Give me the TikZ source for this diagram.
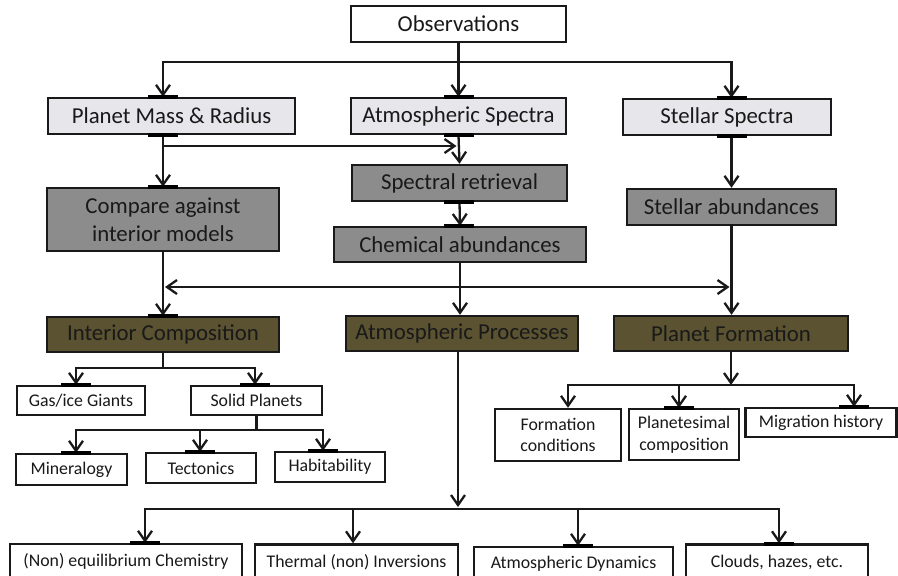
\documentclass[tikz,border=0pt]{standalone}
\usepackage{fontspec}
\setmainfont{Carlito}
\usetikzlibrary{arrows.meta,calc}
\definecolor{boxlight}{RGB}{230,230,235}
\definecolor{boxmid}{RGB}{140,140,140}
\definecolor{boxolive}{RGB}{90,82,49}
\definecolor{txt}{RGB}{25,25,25}
\begin{document}
\begin{tikzpicture}[x=0.5pt,y=-0.5pt,
  box/.style={draw=black!90, line width=1.2pt, rectangle, inner sep=0pt, align=center, text=txt},
  big/.style={box, font=\fontsize{11.4}{14}\selectfont},
  small/.style={box, font=\fontsize{8.9}{10.8}\selectfont, fill=white},
  wht/.style={big, fill=white},
  lite/.style={big, fill=boxlight},
  mid/.style={big, fill=boxmid},
  oliv/.style={big, fill=boxolive},
  ln/.style={line width=1.15pt, black!90},
  arr/.style={ln, -{Straight Barb[length=5pt,width=7pt,line width=1.15pt]}},
  arrtwo/.style={ln, {Straight Barb[length=5pt,width=7pt,line width=1.15pt]}-{Straight Barb[length=5pt,width=7pt,line width=1.15pt]}},
  pinbar/.style={line width=1.7pt, black}
]
\useasboundingbox (0,0) rectangle (898,575);
\clip (0,0) rectangle (898,575);
\fill[white] (0,0) rectangle (898,575);

% top level
\node[wht, minimum width=107.5pt, minimum height=18pt] (obs) at (458.5,24) {Observations};
\node[lite, minimum width=123.5pt, minimum height=18pt] (pmr) at (171.5,116) {Planet Mass \& Radius};
\node[lite, minimum width=107.5pt, minimum height=18pt] (as) at (458.5,116) {Atmospheric Spectra};
\node[lite, minimum width=104pt, minimum height=18pt] (ss) at (727,117) {Stellar Spectra};
% processing
\node[mid, minimum width=107.5pt, minimum height=18pt] (sr) at (459.5,183) {Spectral retrieval};
\node[mid, minimum width=116pt, minimum height=31.5pt] (cmp) at (163,219.5) {Compare against\\interior models};
\node[mid, minimum width=126pt, minimum height=17.5pt] (ca) at (460,244.5) {Chemical abundances};
\node[mid, minimum width=104.5pt, minimum height=18pt] (sa) at (731.5,207) {Stellar abundances};
% olive
\node[oliv, minimum width=116pt, minimum height=17.5pt] (ic) at (163,334.5) {Interior Composition};
\node[oliv, minimum width=116pt, minimum height=17.5pt] (ap) at (462,333.5) {Atmospheric Processes};
\node[oliv, minimum width=117pt, minimum height=17.5pt] (pf) at (731,333.5) {Planet Formation};
% interior subtree
\node[small, minimum width=64pt, minimum height=14.5pt] (gas) at (81,400.5) {Gas/ice Giants};
\node[small, minimum width=65.5pt, minimum height=14.5pt] (sol) at (256.5,400.5) {Solid Planets};
\node[small, minimum width=55.5pt, minimum height=15.5pt] (min) at (71.5,469.5) {Mineralogy};
\node[small, minimum width=55pt, minimum height=15pt] (tec) at (201,468) {Tectonics};
\node[small, minimum width=55pt, minimum height=15pt] (hab) at (330,467) {Habitability};
% formation subtree
\node[small, minimum width=63pt, minimum height=26pt] (fc) at (558,435) {Formation\\conditions};
\node[small, minimum width=55pt, minimum height=25.5pt] (pc) at (684,434.5) {Planetesimal\\composition};
\node[small, minimum width=75.5pt, minimum height=14.5pt] (mh) at (821,422.5) {Migration history};
% atmospheric subtree
\node[small, minimum width=116pt, minimum height=17.5pt] (neq) at (126,561.5) {(Non) equilibrium Chemistry};
\node[small, minimum width=101.5pt, minimum height=17.5pt] (thr) at (356.5,562) {Thermal (non) Inversions};
\node[small, minimum width=99.5pt, minimum height=17pt] (ad) at (573.5,564) {Atmospheric Dynamics};
\node[small, minimum width=91pt, minimum height=17.5pt] (cl) at (777,562) {Clouds, hazes, etc.};

% connectors
\coordinate (t1) at (458.5,62);
\draw[arr] (obs.south) -- (as.north);
\draw[arr] (t1) -| (cmp.north |- pmr.north);
\draw[arr] (t1) -| (sa.north |- ss.north);
\draw[arr] (cmp.north |- pmr.south) -- (cmp.north);
\coordinate (t2) at (163,146);
\draw[arr, shorten >=1pt] (t2) -- (as.south |- t2);
\draw[arr] (as.south) -- (sr.north);
\draw[arr] (sr.south) -- (ca.north);
\draw[arr] (sa.north |- ss.south) -- (sa.north);
\draw[arr] (cmp.south) -- (ic.north);
\draw[arr] (ca.south) -- (ca.south |- ap.north);
\draw[arr] (sa.south) -- (sa.south |- pf.north);
\coordinate (t4) at (163,287);
\coordinate (t5) at (731.5,287);
\draw[arrtwo, shorten <=1pt, shorten >=1pt] (t4) -- (t5);

\coordinate (t6) at (163,368);
\draw[ln] (ic.south) -- (t6);
\draw[arr] (t6) -| ($(gas.north)+(-5,0)$);
\draw[arr] (t6) -| ($(sol.north)+(-1.5,0)$);

\coordinate (t7) at (256.5,430);
\draw[ln] (sol.south) -- (t7);
\draw[arr] (t7) -| ($(min.north)+(4.5,0)$);
\draw[arr] (t7) -| ($(tec.north)+(-1,0)$);
\draw[arr] (t7) -| ($(hab.north)+(-7,0)$);

\coordinate (t8) at (731,385);
\draw[arr] (pf.south) -- (t8);
\draw[arr] (t8) -| ($(fc.north)+(10,0)$);
\draw[arr] (t8) -| ($(pc.north)+(-5,0)$);
\draw[arr] (t8) -| ($(mh.north)+(33,0)$);

\coordinate (t9) at (458,509);
\draw[arr, shorten >=1pt] ($(ap.south)+(-4,0)$) -- (t9);
\draw[arr] (t9) -| ($(neq.north)+(19,0)$);
\draw[arr] (t9) -| ($(thr.north)+(-3.5,0)$);
\draw[arr] (t9) -| ($(ad.north)+(4.5,0)$);
\draw[arr] (t9) -| ($(cl.north)+(2,0)$);

% connection point bars
\foreach \px/\py in {163/97,163/135,163/187,459/97,459/135,731.5/98,731.5/136,459/202,459/226,163/316,76/385,255/385,76/453,200/452,323/451,679/408,854/407,145/543,578/546,779/544}
  \draw[pinbar] (\px-15,\py) -- (\px+15,\py);
\end{tikzpicture}
\end{document}
